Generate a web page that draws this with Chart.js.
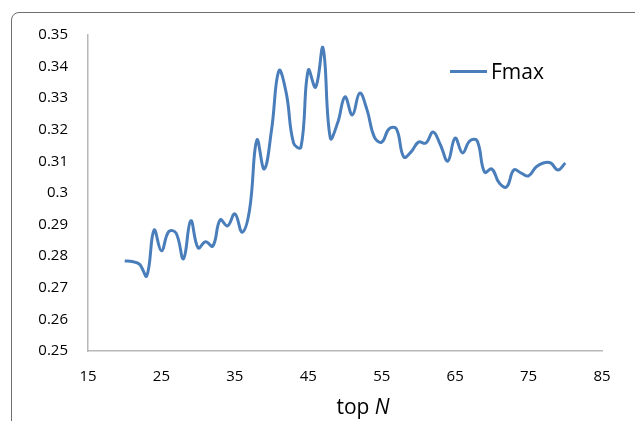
<!DOCTYPE html>
<html>
<head>
<meta charset="utf-8">
<script src="https://cdn.jsdelivr.net/npm/chart.js@4"></script>
<style>
  html, body { margin: 0; padding: 0; background: #fff; overflow: hidden; }
  #wrap { position: relative; width: 635px; height: 421px; }
  #frame { position: absolute; left: 11px; top: 12px; width: 640px; height: 440px;
           border: 1px solid #6e6e6e; border-radius: 8px; box-sizing: border-box; }
  canvas { position: absolute; left: 0; top: 0; }
  #leyenda { position: absolute; left: 450px; top: 57px; font: 21px "Open Sans", sans-serif; color: #000; }
  #leyenda span.linea { display: inline-block; width: 37px; height: 3px; background: #4a7ebb;
                        vertical-align: middle; margin-right: 4px; position: relative; top: -2px; }
  #titulo-x { position: absolute; left: 0; width: 726px; top: 392px; text-align: center;
              font: 21px "Open Sans", sans-serif; color: #000; }
</style>
</head>
<body>
<div id="wrap">
  <div id="frame"></div>
  <canvas id="chart" width="635" height="421"></canvas>
  <div id="leyenda"><span class="linea"></span>Fmax</div>
  <div id="titulo-x">top <i>N</i></div>
</div>
<script>
// Datos
const topN = [20, 21, 22, 23, 24, 25, 26, 27, 28, 29, 30, 31, 32, 33, 34, 35, 36, 37, 38, 39,
              40, 41, 42, 43, 44, 45, 46, 47, 48, 49, 50, 51, 52, 53, 54, 55, 56, 57, 58, 59,
              60, 61, 62, 63, 64, 65, 66, 67, 68, 69, 70, 71, 72, 73, 74, 75, 76, 77, 78, 79, 80];
const fmax = [0.2785, 0.2783, 0.2775, 0.2738, 0.2883, 0.2817, 0.2878, 0.2873, 0.2792, 0.2912,
              0.2826, 0.2846, 0.2832, 0.2915, 0.2896, 0.2934, 0.2876, 0.2946, 0.3168, 0.3076,
              0.3200, 0.3387, 0.3316, 0.3158, 0.3145, 0.3389, 0.3335, 0.3459, 0.3174, 0.3222,
              0.3304, 0.3247, 0.3316, 0.3263, 0.3177, 0.3161, 0.3203, 0.3203, 0.3114, 0.3130,
              0.3161, 0.3158, 0.3193, 0.3152, 0.3101, 0.3174, 0.3127, 0.3165, 0.3165, 0.3066,
              0.3076, 0.3032, 0.3019, 0.3073, 0.3063, 0.3054, 0.3082, 0.3095, 0.3095, 0.3073, 0.3095];
const ticksX = [15, 25, 35, 45, 55, 65, 75, 85];
const ticksY = [0.25, 0.26, 0.27, 0.28, 0.29, 0.3, 0.31, 0.32, 0.33, 0.34, 0.35];

const fuente = { family: "'Open Sans', sans-serif", size: 15 };

const ctx = document.getElementById('chart').getContext('2d');

new Chart(ctx, {
    type: 'line',
    data: {
        datasets: [{
            label: 'Fmax',
            data: topN.map((n, i) => ({ x: n, y: fmax[i] })),
            borderColor: '#4a7ebb',
            borderWidth: 3,
            pointRadius: 0,
            tension: 0.42,
            fill: false
        }]
    },
    options: {
        responsive: false,
        animation: false,
        layout: { padding: { left: 0, top: 35, right: 33, bottom: 0 } },
        plugins: {
            legend: { display: false },
            tooltip: { enabled: false }
        },
        scales: {
            x: {
                type: 'linear',
                min: ticksX[0],
                max: ticksX[ticksX.length - 1],
                afterBuildTicks: (scale) => { scale.ticks = ticksX.map(v => ({ value: v })); },
                afterFit: (scale) => { scale.height = 70; },
                grid: { display: false, drawTicks: false },
                border: { display: true, color: '#b8b8b8', width: 1.5 },
                ticks: { color: '#000', font: fuente, padding: 17, maxRotation: 0 }
            },
            y: {
                min: ticksY[0],
                max: ticksY[ticksY.length - 1],
                afterBuildTicks: (scale) => { scale.ticks = ticksY.map(v => ({ value: v })); },
                afterFit: (scale) => { scale.width = 88; },
                grid: { display: false, drawTicks: false },
                border: { display: true, color: '#b8b8b8', width: 1.5 },
                ticks: {
                    color: '#000',
                    font: fuente,
                    padding: 20,
                    callback: (v) => String(Number(v.toFixed(2)))
                }
            }
        }
    }
});
</script>
</body>
</html>
